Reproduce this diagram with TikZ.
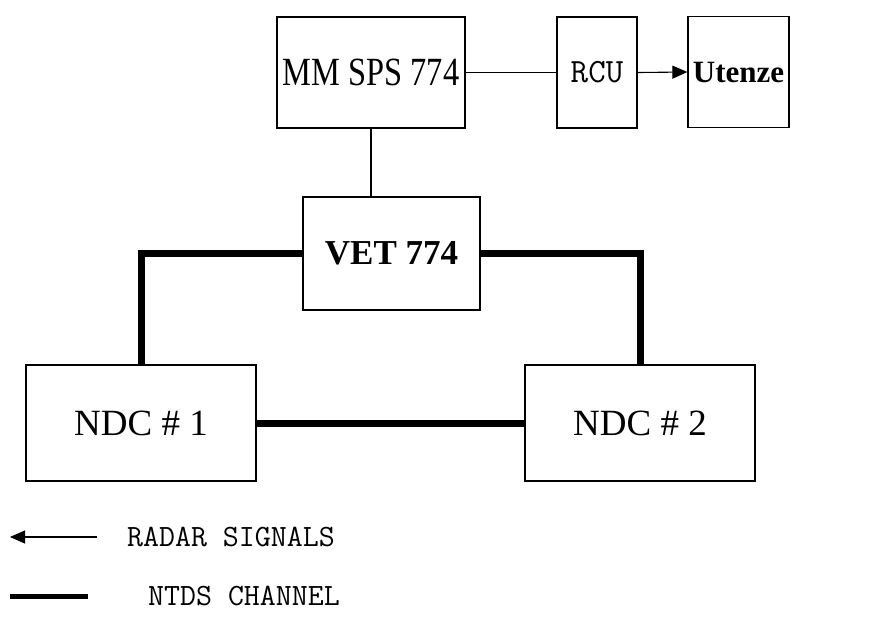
\documentclass[tikz,border=0pt]{standalone}
\usepackage{fontspec}
\setmainfont{Liberation Serif}
\newfontfamily\slabmono{Latin Modern Mono}
\usetikzlibrary{arrows.meta}

\tikzset{
  blk/.style={draw, line width=1.3pt, inner sep=0pt, align=center},
  thin link/.style={line width=1.1pt},
  ntds/.style={line width=7pt, line join=miter},
  sig/.style={line width=1.1pt, -{Triangle[length=15pt, width=13pt]}},
  legend text/.style={font=\slabmono\fontsize{31}{33}\selectfont, anchor=west, inner sep=0pt},
}

\begin{document}
\begin{tikzpicture}[x=1pt, y=-1pt]
  \useasboundingbox (0,0) rectangle (883,619);

  % upper chain
  \node[blk, minimum width=188pt, minimum height=111pt] (mm) at (371,72.5)
    {\scalebox{0.81}[1]{\fontsize{40}{42}\selectfont MM SPS 774}};
  \node[blk, minimum width=80pt, minimum height=111pt] (rcu) at (597,72.5)
    {\slabmono\fontsize{34}{36}\selectfont RCU};
  \node[blk, minimum width=101pt, minimum height=111pt] (ut) at (738.5,72)
    {\fontsize{31}{33}\selectfont\bfseries Utenze};

  % VET and the two NDC units
  \node[blk, minimum width=177pt, minimum height=113pt] (vet) at (391.5,253.5)
    {\fontsize{35}{37}\selectfont\bfseries VET 774};
  \node[blk, minimum width=230pt, minimum height=116pt] (ndc1) at (141,423)
    {\fontsize{37}{39}\selectfont NDC \# 1};
  \node[blk, minimum width=230pt, minimum height=116pt] (ndc2) at (640,423)
    {\fontsize{37}{39}\selectfont NDC \# 2};

  % radar signal links
  \draw[thin link] (mm.east) -- (rcu.west);
  \draw[sig] (rcu.east) -- (ut.west);
  \draw[thin link] (mm.south) -- (mm.south |- vet.north);

  % NTDS channels
  \draw[ntds] (vet.west) -| (ndc1.north);
  \draw[ntds] (vet.east) -| (ndc2.north);
  \draw[ntds] (ndc1.east) -- (ndc2.west);

  % legend
  \coordinate (lgA1) at (97,537);
  \coordinate (lgA2) at (10,537);
  \coordinate (lgB1) at (10,596);
  \coordinate (lgB2) at (88,596);
  \draw[sig] (lgA1) -- (lgA2);
  \draw[line width=5pt] (lgB1) -- (lgB2);
  \node[legend text] (lgt1) at (127,537) {RADAR SIGNALS};
  \node[legend text] (lgt2) at (148,596) {NTDS CHANNEL};
\end{tikzpicture}
\end{document}
